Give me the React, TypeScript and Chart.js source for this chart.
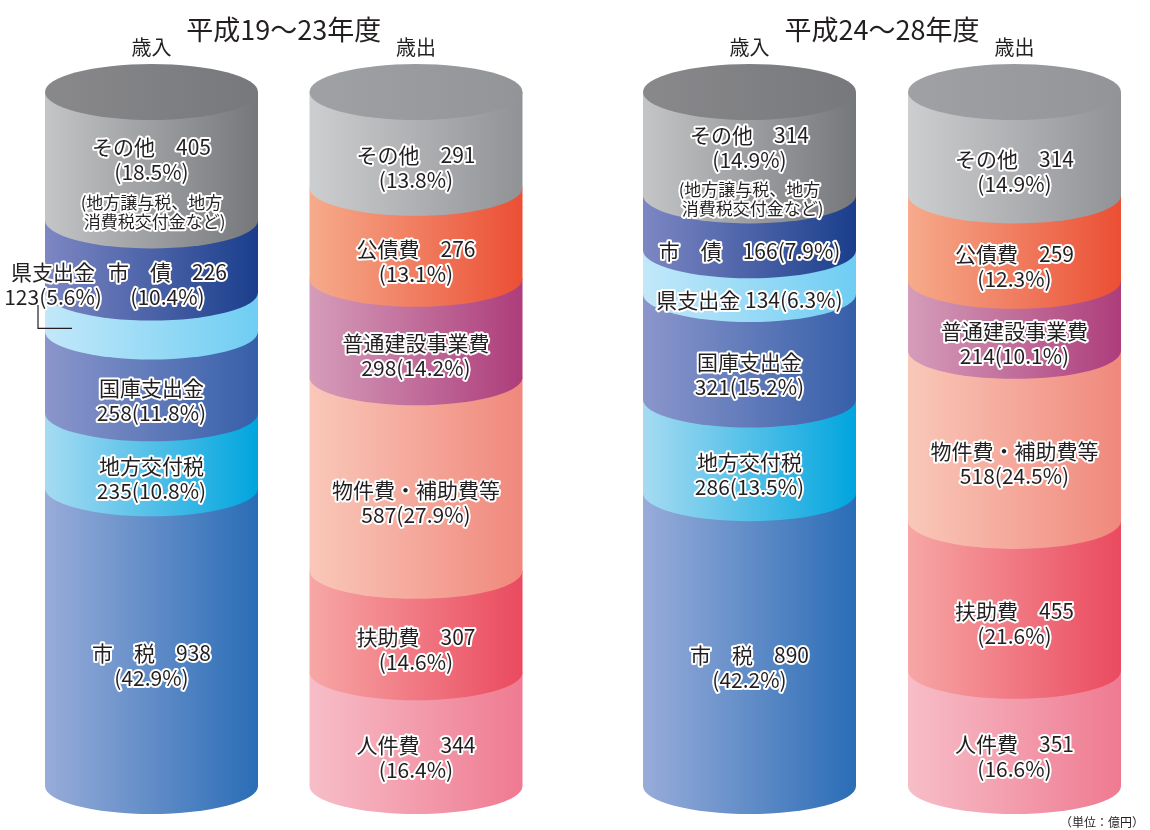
import React, { useEffect, useRef } from 'react';
import { Chart, registerables } from 'chart.js';

Chart.register(...registerables);

// ---------- data (top of cylinder → bottom) ----------
const periodTitles = ['平成19～23年度', '平成24～28年度'];
const sideHeaders = ['歳入', '歳出'];
const unitLabel = '（単位：億円）';

const revenueNames = ['その他', '市　債', '県支出金', '国庫支出金', '地方交付税', '市　税'];
const expenseNames = ['その他', '公債費', '普通建設事業費', '物件費・補助費等', '扶助費', '人件費'];
const otherNote = ['(地方譲与税、地方', '消費税交付金など)'];

const revenueAmounts1 = [405, 226, 123, 258, 235, 938];
const revenueShares1 = [18.5, 10.4, 5.6, 11.8, 10.8, 42.9];
const expenseAmounts1 = [291, 276, 298, 587, 307, 344];
const expenseShares1 = [13.8, 13.1, 14.2, 27.9, 14.6, 16.4];

const revenueAmounts2 = [314, 166, 134, 321, 286, 890];
const revenueShares2 = [14.9, 7.9, 6.3, 15.2, 13.5, 42.2];
const expenseAmounts2 = [314, 259, 214, 518, 455, 351];
const expenseShares2 = [14.9, 12.3, 10.1, 24.5, 21.6, 16.6];

// ---------- styles ----------
const revenueLabelKinds1 = ['nameAmtNote', 'nameAmt', 'outside', 'name', 'name', 'nameAmt'];
const revenueLabelKinds2 = ['nameAmtNote', 'inline', 'inline', 'name', 'name', 'nameAmt'];
const expenseLabelKinds = ['nameAmt', 'nameAmt', 'name', 'name', 'nameAmt', 'nameAmt'];
const revenueLabelShift1 = [0, 16, 0, 0, 0, 0];
const noLabelShift = [0, 0, 0, 0, 0, 0];

const revenueColors: [string, string][] = [
  ['#c4c5c7', '#76777a'],
  ['#7d87c3', '#1a3e8c'],
  ['#c2e8f9', '#6fcdf3'],
  ['#8b96cb', '#365fa9'],
  ['#a6dbf2', '#00a5de'],
  ['#98acd9', '#2a6db6'],
];
const expenseColors: [string, string][] = [
  ['#cdcecf', '#919296'],
  ['#f6ab8c', '#eb4f34'],
  ['#d59dba', '#ad3d7b'],
  ['#f9c8b9', '#f0887c'],
  ['#f7a7a6', '#ea4a5f'],
  ['#f7bec8', '#ef7a91'],
];
const revenueTop: [string, string] = ['#89898c', '#77787b'];
const expenseTop: [string, string] = ['#a0a1a5', '#939498'];

const FONT = '"Noto Sans CJK JP", "Noto Sans", sans-serif';
const TEXT_COLOR = '#231f20';
const RY = 28;
const BAR_W = 213;
const CANVAS_W = 575;
const CANVAS_H = 830;

type Column = {
  header: string;
  names: string[];
  amounts: number[];
  shares: number[];
  kinds: string[];
  shifts: number[];
  colors: [string, string][];
  top: [string, string];
};

function haloText(ctx: CanvasRenderingContext2D, text: string, x: number, y: number, size: number, align: CanvasTextAlign = 'center') {
  ctx.save();
  ctx.font = `${size}px ${FONT}`;
  ctx.textAlign = align;
  ctx.textBaseline = 'middle';
  ctx.lineJoin = 'round';
  ctx.strokeStyle = '#ffffff';
  ctx.lineWidth = 4;
  ctx.strokeText(text, x, y);
  ctx.fillStyle = TEXT_COLOR;
  ctx.fillText(text, x, y);
  ctx.restore();
}

function plainText(ctx: CanvasRenderingContext2D, text: string, x: number, y: number, size: number, align: CanvasTextAlign = 'center') {
  ctx.save();
  ctx.font = `${size}px ${FONT}`;
  ctx.textAlign = align;
  ctx.textBaseline = 'middle';
  ctx.fillStyle = TEXT_COLOR;
  ctx.fillText(text, x, y);
  ctx.restore();
}

function makePlugin(title: string, columns: Column[], showUnit: boolean) {
  return {
    id: 'cylinders',
    afterDatasetsDraw(chart: any) {
      const ctx: CanvasRenderingContext2D = chart.ctx;
      const n = chart.data.datasets.length;
      const area = chart.chartArea;

      columns.forEach((col, i) => {
        let topY = 0;
        let cx = 0;
        let w = 0;
        // bottom → top so upper bulges overlap lower segments
        for (let d = 0; d < n; d++) {
          const k = n - 1 - d;
          const el = chart.getDatasetMeta(d).data[i];
          const { x, y, base, width } = el.getProps(['x', 'y', 'base', 'width'], true);
          const left = x - width / 2;
          const right = x + width / 2;
          const [c0, c1] = col.colors[k];
          const g = ctx.createLinearGradient(left, 0, right, 0);
          g.addColorStop(0, c0);
          g.addColorStop(1, c1);
          ctx.save();
          ctx.fillStyle = g;
          ctx.beginPath();
          ctx.moveTo(left, y);
          ctx.lineTo(left, base);
          ctx.ellipse(x, base, width / 2, RY, 0, Math.PI, 0, true);
          ctx.lineTo(right, y);
          ctx.closePath();
          ctx.fill();
          ctx.restore();
          topY = y;
          cx = x;
          w = width;
        }
        // top face
        const tg = ctx.createLinearGradient(cx - w / 2, 0, cx + w / 2, 0);
        tg.addColorStop(0, col.top[0]);
        tg.addColorStop(1, col.top[1]);
        ctx.save();
        ctx.fillStyle = tg;
        ctx.beginPath();
        ctx.ellipse(cx, topY, w / 2, RY, 0, 0, Math.PI * 2);
        ctx.fill();
        ctx.restore();

        // header
        plainText(ctx, col.header, cx, 47, 20);

        // labels
        for (let d = 0; d < n; d++) {
          const k = n - 1 - d;
          const el = chart.getDatasetMeta(d).data[i];
          const { x: ex, y, base, width } = el.getProps(['x', 'y', 'base', 'width'], true);
          const x = ex + col.shifts[k];
          const c = (y + base) / 2 + RY;
          const name = col.names[k];
          const amt = String(col.amounts[k]);
          const pct = `(${col.shares[k].toFixed(1)}%)`;
          const kind = col.kinds[k];
          const S = 21;
          if (kind === 'nameAmtNote') {
            haloText(ctx, `${name}　${amt}`, x, c - 37, S);
            haloText(ctx, pct, x, c - 12, S);
            haloText(ctx, otherNote[0], x, c + 18, 17);
            haloText(ctx, otherNote[1], x + 3, c + 37, 17);
          } else if (kind === 'nameAmt') {
            haloText(ctx, `${name}　${amt}`, x, c - 12.5, S);
            haloText(ctx, pct, x, c + 12.5, S);
          } else if (kind === 'name') {
            haloText(ctx, name, x, c - 12.5, S);
            haloText(ctx, `${amt}${pct}`, x, c + 12.5, S);
          } else if (kind === 'inline') {
            const sep = name.includes('　') ? '　' : ' ';
            haloText(ctx, `${name}${sep}${amt}${pct}`, x, c, S);
          } else if (kind === 'outside') {
            const left = ex - width / 2;
            const tx = left + 8;
            haloText(ctx, name, tx, y - 20.5, S);
            haloText(ctx, `${amt}${pct}`, tx, y + 4.5, S);
            ctx.save();
            ctx.strokeStyle = TEXT_COLOR;
            ctx.lineWidth = 1.2;
            ctx.beginPath();
            ctx.moveTo(left - 7, y + 12.5);
            ctx.lineTo(left - 7, base - 3);
            ctx.lineTo(left + 27, base - 3);
            ctx.stroke();
            ctx.restore();
          }
        }
      });

      // period title
      plainText(ctx, title, (area.left + area.right) / 2, 30, 27);
      if (showUnit) {
        plainText(ctx, unitLabel, chart.width - 6, 822, 12, 'right');
      }
    },
  };
}

function CylinderPair(props: { title: string; columns: Column[]; padLeft: number; padRight: number; showUnit: boolean }) {
  const ref = useRef<HTMLCanvasElement>(null);
  useEffect(() => {
    const canvas = ref.current;
    if (!canvas) return;
    const { title, columns, padLeft, padRight, showUnit } = props;
    const n = columns[0].shares.length;
    const datasets: any[] = [];
    for (let d = 0; d < n; d++) {
      const k = n - 1 - d; // bottom layer first
      datasets.push({
        label: columns.map((c) => c.names[k]).join(' / '),
        data: columns.map((c) => c.shares[k]),
        backgroundColor: 'rgba(0,0,0,0)',
        borderWidth: 0,
        barThickness: BAR_W,
      });
    }
    const chart = new Chart(canvas, {
      type: 'bar',
      data: { labels: columns.map((c) => c.header), datasets },
      options: {
        responsive: false,
        animation: false,
        events: [],
        layout: { padding: { top: 92, bottom: CANVAS_H - 786, left: padLeft, right: padRight } },
        scales: {
          x: { stacked: true, display: false },
          y: { stacked: true, display: false, min: 0, max: 100 },
        },
        plugins: {
          legend: { display: false },
          tooltip: { enabled: false },
          title: { display: false },
        },
      },
      plugins: [makePlugin(title, columns, showUnit)],
    });
    return () => chart.destroy();
  }, []);
  return <canvas ref={ref} width={CANVAS_W} height={CANVAS_H} style={{ display: 'block' }} />;
}

export default function App() {
  const left: Column[] = [
    { header: sideHeaders[0], names: revenueNames, amounts: revenueAmounts1, shares: revenueShares1, kinds: revenueLabelKinds1, shifts: revenueLabelShift1, colors: revenueColors, top: revenueTop },
    { header: sideHeaders[1], names: expenseNames, amounts: expenseAmounts1, shares: expenseShares1, kinds: expenseLabelKinds, shifts: noLabelShift, colors: expenseColors, top: expenseTop },
  ];
  const right: Column[] = [
    { header: sideHeaders[0], names: revenueNames, amounts: revenueAmounts2, shares: revenueShares2, kinds: revenueLabelKinds2, shifts: noLabelShift, colors: revenueColors, top: revenueTop },
    { header: sideHeaders[1], names: expenseNames, amounts: expenseAmounts2, shares: expenseShares2, kinds: expenseLabelKinds, shifts: noLabelShift, colors: expenseColors, top: expenseTop },
  ];
  return (
    <div style={{ position: 'absolute', left: 0, top: 0, width: 1150, height: 830, display: 'flex', background: '#ffffff' }}>
      <CylinderPair title={periodTitles[0]} columns={left} padLeft={19.25} padRight={26.75} showUnit={false} />
      <CylinderPair title={periodTitles[1]} columns={right} padLeft={42} padRight={3} showUnit={true} />
    </div>
  );
}
